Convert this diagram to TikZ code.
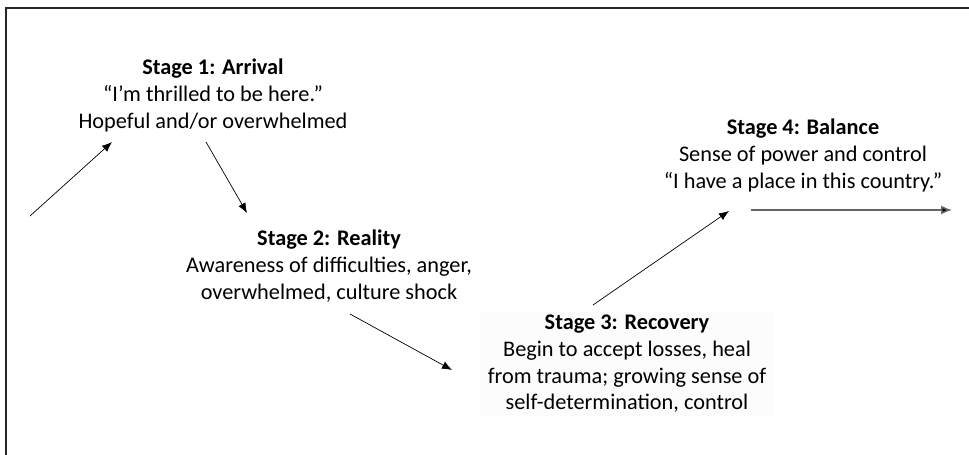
\documentclass[tikz,border=0pt]{standalone}
\usepackage{fontspec}
\setmainfont{Carlito}
\usepackage{tikz}
\usetikzlibrary{arrows.meta}
\tikzset{
  stage-text/.style={align=center, inner sep=0pt, font=\fontsize{22.3}{26.6}\selectfont},
  stage-arrow/.style={-{Latex[length=10pt, width=8pt]}, line width=0.7pt, black},
  stage-frame/.style={draw=black!85, line width=2pt}
}
\begin{document}
\begin{tikzpicture}[x=1pt, y=-1pt]
  \useasboundingbox (0,0) rectangle (969,455);
  \draw[stage-frame] (6,470) -- (6,8) -- (985,8);
  \node[stage-text] (arrival) at (213,95.5) {\textbf{Stage 1: Arrival}\\``I'm thrilled to be here.''\\Hopeful and/or overwhelmed};
  \node[stage-text] (reality) at (329,266) {\textbf{Stage 2: Reality}\\Awareness of difficulties, anger,\\overwhelmed, culture shock};
  \node[stage-text, fill=black!1.2, inner xsep=8pt, inner ysep=3pt] (recovery) at (627,364) {\textbf{Stage 3: Recovery}\\Begin to accept losses, heal\\from trauma; growing sense of\\self-determination, control};
  \node[stage-text] (balance) at (803,155.5) {\textbf{Stage 4: Balance}\\Sense of power and control\\``I have a place in this country.''};
  \coordinate (start) at (30,216);
  \coordinate (a1-end) at (112,142);
  \coordinate (a2-beg) at (206,142);
  \coordinate (a2-end) at (247,213);
  \coordinate (a3-beg) at (350,314);
  \coordinate (a3-end) at (452,370);
  \coordinate (a4-beg) at (593,305);
  \coordinate (a4-end) at (729,211);
  \coordinate (a5-beg) at (751,210);
  \coordinate (a5-end) at (952,210);
  \draw[stage-arrow] (start) -- (a1-end);
  \draw[stage-arrow] (a2-beg) -- (a2-end);
  \draw[stage-arrow] (a3-beg) -- (a3-end);
  \draw[stage-arrow] (a4-beg) -- (a4-end);
  \draw[stage-arrow, draw=black!60, line width=1.5pt, -{Latex[length=11pt, width=9pt, fill=black]}] (a5-beg) -- (a5-end);
\end{tikzpicture}
\end{document}
